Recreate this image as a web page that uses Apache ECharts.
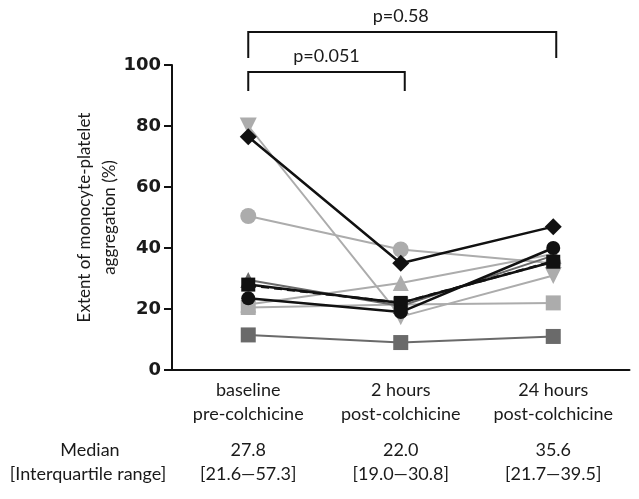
<!DOCTYPE html>
<html><head><meta charset="utf-8">
<script src="https://cdn.jsdelivr.net/npm/echarts@6/dist/echarts.min.js"></script>
<style>html,body{margin:0;padding:0;background:#fff}#c{width:639px;height:499px}</style>
</head><body><div id="c"></div>
<script>
// ---- data ----
const categories = ['baseline\npre-colchicine', '2 hours\npost-colchicine', '24 hours\npost-colchicine'];
const yMin = 0, yMax = 100, yInterval = 20;

const blackDiamond   = [76.5, 35.0, 47.0];
const lightDownTri   = [80.0, 17.5, 31.0];
const lightCircle    = [50.5, 39.5, 35.0];
const darkTriangle   = [29.5, 21.0, 37.5];
const lightTriangle  = [21.5, 28.5, 38.0];
const blackSquare    = [28.0, 22.0, 35.5];
const blackCircle    = [23.5, 19.0, 40.0];
const lightSquare    = [20.5, 21.5, 22.0];
const darkSquare     = [11.5, 9.0, 11.0];
const medianLine     = [27.8, 22.0, 35.6];

const yAxisTitle = ['Extent of monocyte-platelet', 'aggregation (%)'];
const rowTitles = ['Median', '[Interquartile range]'];
const medianLabels = ['27.8', '22.0', '35.6'];
const iqrLabels = ['[21.6\u201457.3]', '[19.0\u201430.8]', '[21.7\u201439.5]'];
const pOuter = 'p=0.58';
const pInner = 'p=0.051';

// ---- styles ----
const BLACK = '#111', DARK = '#6a6a6a', LIGHT = '#acacac';
const FONT = 'Lato';

function mk(name, data, color, symbol, size, rotate, width) {
  return {
    name, type: 'line', data, symbol, symbolSize: size, symbolRotate: rotate || 0,
    lineStyle: { color, width: width || 2 },
    itemStyle: { color, borderWidth: 0 },
    z: 2, animation: false
  };
}

const chart = echarts.init(document.getElementById('c'));
const series = [
  mk('lightSquare', lightSquare, LIGHT, 'rect', 15),
  mk('lightTriangle', lightTriangle, LIGHT, 'triangle', 16),
  mk('lightCircle', lightCircle, LIGHT, 'circle', 16),
  mk('lightDownTri', lightDownTri, LIGHT, 'triangle', 17, 180),
  mk('darkSquare', darkSquare, DARK, 'rect', 15),
  mk('darkTriangle', darkTriangle, DARK, 'triangle', 16),
  {
    name: 'median', type: 'line', data: medianLine, symbol: 'none',
    lineStyle: { color: BLACK, width: 2.5, type: [8, 5] }, z: 3, animation: false
  },
  mk('blackSquare', blackSquare, BLACK, 'rect', 14, 0, 2.5),
  mk('blackCircle', blackCircle, BLACK, 'circle', 14, 0, 2.5),
  mk('blackDiamond', blackDiamond, BLACK, 'diamond', 17, 0, 2.5)
];
series.forEach((s, i) => { s.z = 2 + i * 0.01; });

chart.setOption({
  backgroundColor: '#fff',
  animation: false,
  grid: { left: 172, right: 9.5, top: 65, bottom: 129 },
  xAxis: {
    type: 'category', data: categories, boundaryGap: true,
    axisLine: { lineStyle: { color: BLACK, width: 2 } },
    axisTick: { alignWithLabel: true, length: 7, lineStyle: { color: BLACK, width: 2 } },
    axisLabel: { interval: 0, hideOverlap: false, color: '#1a1a1a', fontFamily: FONT, fontSize: 18, lineHeight: 24, margin: 8 },
    splitLine: { show: false }
  },
  yAxis: {
    type: 'value', min: yMin, max: yMax, interval: yInterval,
    axisLine: { show: true, lineStyle: { color: BLACK, width: 2 } },
    axisTick: { show: true, length: 8, lineStyle: { color: BLACK, width: 2 } },
    axisLabel: { color: '#1a1a1a', fontFamily: 'DejaVu Sans', fontWeight: 'bold', fontSize: 18, margin: 11 },
    splitLine: { show: false }
  },
  series
});

// annotations positioned from the chart's own scales
const xs = categories.map((c, i) => chart.convertToPixel({ xAxisIndex: 0 }, i));
const yTop = chart.convertToPixel({ yAxisIndex: 0 }, yMax);
const yBot = chart.convertToPixel({ yAxisIndex: 0 }, yMin);
const txt = (x, y, t, extra) => Object.assign({
  type: 'text', x, y,
  style: { text: t, fill: '#1a1a1a', font: '18px ' + FONT, align: 'center', verticalAlign: 'middle' }
}, extra || {});
const bracket = (x1, x2, yh, yl) => ({
  type: 'polyline',
  shape: { points: [[x1, yl], [x1, yh], [x2, yh], [x2, yl]] },
  style: { stroke: BLACK, lineWidth: 2, fill: null }
});

const g = [];
g.push(bracket(xs[0], xs[2] + 3, yTop - 33, yTop - 7));
g.push(bracket(xs[0], xs[1] + 4, yTop + 7, yTop + 26));
g.push(txt((xs[0] + xs[2]) / 2, yTop - 49, pOuter));
g.push(txt((xs[0] + xs[1]) / 2 + 2, yTop - 9, pInner));
g.push({
  type: 'text', x: 97, y: (yTop + yBot) / 2, rotation: Math.PI / 2,
  style: { text: yAxisTitle.join('\n'), fill: '#1a1a1a', font: '17px ' + FONT, lineHeight: 25, align: 'center', verticalAlign: 'middle' }
});
g.push(txt(90, yBot + 80, rowTitles[0]));
g.push(txt(88, yBot + 104, rowTitles[1]));
xs.forEach((x, i) => {
  g.push(txt(x, yBot + 80, medianLabels[i]));
  g.push(txt(x, yBot + 104, iqrLabels[i]));
});
chart.setOption({ graphic: g });
</script>
</body></html>
